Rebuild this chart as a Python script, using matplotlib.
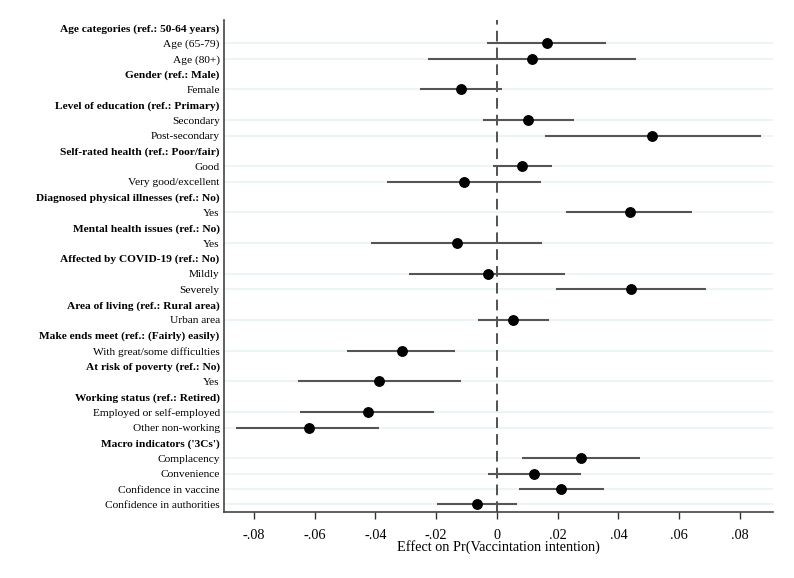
import numpy as np
import matplotlib.pyplot as plt

plt.rcParams['font.family'] = ['Liberation Serif', 'DejaVu Serif']

# rows from top to bottom; headers have no estimate
labels = [
    "Age categories (ref.: 50-64 years)", "Age (65-79)", "Age (80+)",
    "Gender (ref.: Male)", "Female",
    "Level of education (ref.: Primary)", "Secondary", "Post-secondary",
    "Self-rated health (ref.: Poor/fair)", "Good", "Very good/excellent",
    "Diagnosed physical illnesses (ref.: No)", "Yes",
    "Mental health issues (ref.: No)", "Yes",
    "Affected by COVID-19 (ref.: No)", "Mildly", "Severely",
    "Area of living (ref.: Rural area)", "Urban area",
    "Make ends meet (ref.: (Fairly) easily)", "With great/some difficulties",
    "At risk of poverty (ref.: No)", "Yes",
    "Working status (ref.: Retired)", "Employed or self-employed", "Other non-working",
    "Macro indicators ('3Cs')", "Complacency", "Convenience",
    "Confidence in vaccine", "Confidence in authorities",
]
is_header = [1, 0, 0, 1, 0, 1, 0, 0, 1, 0, 0, 1, 0, 1, 0, 1, 0, 0,
             1, 0, 1, 0, 1, 0, 1, 0, 0, 1, 0, 0, 0, 0]

# estimates and 95% CI for the non-header rows, in order
est = [0.0164, 0.0115, -0.0118, 0.0104, 0.0512, 0.0083, -0.0109,
       0.0438, -0.0133, -0.0031, 0.0440, 0.0054, -0.0314, -0.0387,
       -0.0426, -0.0620, 0.0278, 0.0123, 0.0211, -0.0067]
lo = [-0.0033, -0.0227, -0.0253, -0.0046, 0.0159, -0.0012, -0.0362,
      0.0229, -0.0416, -0.0288, 0.0193, -0.0061, -0.0494, -0.0655,
      -0.0650, -0.0859, 0.0084, -0.0030, 0.0073, -0.0198]
hi = [0.0359, 0.0458, 0.0017, 0.0254, 0.0868, 0.0182, 0.0144,
      0.0644, 0.0150, 0.0224, 0.0687, 0.0170, -0.0137, -0.0117,
      -0.0206, -0.0387, 0.0472, 0.0278, 0.0352, 0.0065]

xticks = [-0.08, -0.06, -0.04, -0.02, 0, 0.02, 0.04, 0.06, 0.08]
xticklabels = ["-.08", "-.06", "-.04", "-.02", "0", ".02", ".04", ".06", ".08"]

rows = np.arange(1, len(labels) + 1)
item_rows = rows[np.array(is_header) == 0]

fig = plt.figure(figsize=(7.94, 5.78), dpi=100)
ax = fig.add_axes([0.282, 0.114, 0.6915, 0.851])

for r in item_rows:
    ax.axhline(r, color='#eaf2f3', lw=1.2, zorder=0)

ax.axvline(0, color='#222222', lw=1.1, ls=(0, (7, 4)), zorder=1)
ax.hlines(item_rows, lo, hi, color='#555555', lw=1.5, zorder=2)
ax.plot(est, item_rows, 'o', color='black', ms=6.8, zorder=3)

ax.set_xlim(-0.0899, 0.0909)
ax.set_ylim(len(labels) + 0.5, 0.5)
ax.set_yticks(rows)
ax.set_yticklabels(labels, fontsize=8.2)
for t, h in zip(ax.get_yticklabels(), is_header):
    if h:
        t.set_fontweight('bold')
ax.tick_params(axis='y', length=0, pad=3)
ax.set_xticks(xticks)
ax.set_xticklabels(xticklabels, fontsize=10.3)
ax.tick_params(axis='x', direction='out', length=5, width=1, color='#333333', pad=7)
ax.set_xlabel("Effect on Pr(Vaccintation intention)", fontsize=10.3, labelpad=-1)

for s in ['top', 'right']:
    ax.spines[s].set_visible(False)
for s in ['left', 'bottom']:
    ax.spines[s].set_color('#444444')
    ax.spines[s].set_linewidth(1.2)

fig.savefig('out.png', dpi=100)
